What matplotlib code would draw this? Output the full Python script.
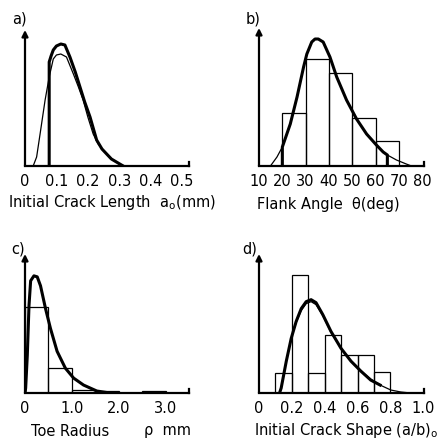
import matplotlib.pyplot as plt

W, H = 447, 446

# a) initial crack length
a_fit_x = [0.077, 0.077, 0.083, 0.090, 0.100, 0.114, 0.127, 0.143, 0.160, 0.175, 0.190, 0.207,
           0.228, 0.245, 0.260, 0.275, 0.291, 0.3125]
a_fit_y = [0, 104, 110, 116, 120, 122, 121, 109, 94, 79, 64, 49, 26, 17, 12, 7, 4, 0]
a_obs_x = [0.026, 0.037, 0.048, 0.064, 0.077, 0.090, 0.100, 0.114, 0.132, 0.154, 0.170, 0.185,
           0.200, 0.217, 0.233, 0.249, 0.265, 0.281, 0.300, 0.3125]
a_obs_y = [0, 9, 32, 66, 89, 107, 111, 112, 109, 92, 79, 66, 49, 32, 22, 16, 10, 6, 2, 0.5]
a_ticks = [0, 0.1, 0.2, 0.3, 0.4, 0.5]
a_ticklabels = ['0', '0.1', '0.2', '0.3', '0.4', '0.5']

# b) flank angle
b_edges = [20, 30, 40, 50, 60, 70]
b_counts = [53, 107, 93, 48, 25]
b_fit_x = [20.0, 20.0, 23.4, 26.3, 29.1, 30.5, 32.6, 34.0, 35.4, 37.5, 40.4, 43.3, 47.5, 51.8,
           56.1, 60.3, 63.2, 65.0, 65.0]
b_fit_y = [0, 19, 42, 69, 99, 112, 124, 127, 127, 124, 109, 89, 66, 47, 32, 21, 14, 11, 0]
b_obs_x = [14.9, 17.7, 20.0, 23.4, 26.3, 29.1, 30.5, 32.6, 34.0, 35.4, 37.5, 40.4, 43.3, 47.5,
           51.8, 56.1, 60.3, 63.2, 65.0, 68.9, 73.1, 75.3]
b_obs_y = [0, 9, 19, 42, 69, 99, 112, 124, 127, 127, 124, 109, 89, 66, 47, 32, 21, 14, 11, 6, 2, 0]
b_ticks = [10, 20, 30, 40, 50, 60, 70, 80]

# c) toe radius
c_edges = [0, 0.5, 1.0, 1.5, 2.0]
c_counts = [87, 25, 3, 2]
c_edges2 = [2.5, 3.0]
c_counts2 = [2]
c_fit_x = [0.0, 0.014, 0.049, 0.085, 0.12, 0.19, 0.26, 0.33, 0.437, 0.542, 0.683, 0.859,
           1.035, 1.246, 1.528, 1.81]
c_fit_y = [0, 5, 38, 88, 113, 118, 117, 108, 85, 65, 42, 25, 15, 8, 2, 0]
c_ticks = [0, 1.0, 2.0, 3.0]
c_ticklabels = ['0', '1.0', '2.0', '3.0']

# d) initial crack shape
d_edges = [0.1, 0.2, 0.3, 0.4, 0.5, 0.6, 0.7, 0.8]
d_counts = [20, 119, 20, 58, 38, 38, 21]
d_fit_x = [0.125, 0.135, 0.166, 0.196, 0.226, 0.257, 0.287, 0.317, 0.347, 0.388, 0.438, 0.499,
           0.56, 0.62, 0.68, 0.737]
d_fit_y = [0, 5, 32, 55, 72, 85, 92, 94, 91, 79, 62, 45, 32, 22, 13, 8]
d_obs_x = [0.125, 0.135, 0.166, 0.196, 0.226, 0.257, 0.287, 0.317, 0.347, 0.388, 0.438, 0.499,
           0.56, 0.62, 0.68, 0.737, 0.802, 0.863, 0.923]
d_obs_y = [0, 5, 32, 55, 71, 83, 90, 92, 89, 78, 61, 45, 32, 22, 14, 8, 3, 1, 0]
d_ticks = [0, 0.2, 0.4, 0.6, 0.8, 1.0]
d_ticklabels = ['0', '0.2', '0.4', '0.6', '0.8', '1.0']

fig = plt.figure(figsize=(W / 100, H / 100), dpi=100)
fig.patch.set_facecolor('white')


def make_ax(x0, x1, ybase, ytop, xlim, ylim):
    ax = fig.add_axes([x0 / W, 1 - ybase / H, (x1 - x0) / W, (ybase - ytop) / H])
    ax.set_xlim(*xlim)
    ax.set_ylim(*ylim)
    for s in ['top', 'right', 'left']:
        ax.spines[s].set_visible(False)
    ax.spines['bottom'].set_linewidth(1.6)
    ax.set_yticks([])
    ax.tick_params(axis='x', length=0, pad=6, labelsize=10.5)
    ax.annotate('', xy=(0, 1), xytext=(0, 0), xycoords='axes fraction',
                arrowprops=dict(arrowstyle='-|>', lw=1.6, color='black', mutation_scale=9,
                                shrinkA=0, shrinkB=0))
    ax.plot([1, 1], [0, 0.03], transform=ax.transAxes, color='black', lw=1.6, clip_on=False)
    return ax


def bars(ax, edges, counts):
    widths = [edges[i + 1] - edges[i] for i in range(len(counts))]
    ax.bar(edges[:-1], counts, width=widths, align='edge', fill=False,
           edgecolor='black', linewidth=0.9)


lab = dict(fontsize=10.5, ha='center', va='center')

# a)
ax = make_ax(25, 189, 166, 30, (0, 0.522), (0, 136))
ax.plot(a_obs_x, a_obs_y, color='black', lw=0.9)
ax.plot(a_fit_x, a_fit_y, color='black', lw=2.2)
ax.set_xticks(a_ticks, a_ticklabels)
fig.text(19 / W, 1 - 19 / H, 'a)', **lab)
fig.text(112 / W, 1 - 203 / H, 'Initial Crack Length  a$_\\mathregular{o}$(mm)', **lab)

# b)
ax = make_ax(259, 424, 166, 28, (10, 80.7), (0, 138))
bars(ax, b_edges, b_counts)
ax.plot(b_obs_x, b_obs_y, color='black', lw=0.9)
ax.plot(b_fit_x, b_fit_y, color='black', lw=2.2)
ax.set_xticks(b_ticks, [str(t) for t in b_ticks])
fig.text(253 / W, 1 - 19 / H, 'b)', **lab)
fig.text(328 / W, 1 - 204 / H, 'Flank Angle  \u03b8(deg)', **lab)

# c)
ax = make_ax(25, 189, 393, 254, (0, 3.49), (0, 140))
bars(ax, c_edges, c_counts)
bars(ax, c_edges2, c_counts2)
ax.plot(c_fit_x, c_fit_y, color='black', lw=2.2)
ax.set_xticks(c_ticks, c_ticklabels)
fig.text(18 / W, 1 - 249 / H, 'c)', **lab)
fig.text(70 / W, 1 - 431 / H, 'Toe Radius', **lab)
fig.text(168 / W, 1 - 431 / H, '\u03c1  mm', **lab)

# d)
ax = make_ax(259, 424, 393, 254, (0, 1.004), (0, 140))
bars(ax, d_edges, d_counts)
ax.plot(d_obs_x, d_obs_y, color='black', lw=0.9)
ax.plot(d_fit_x, d_fit_y, color='black', lw=2.2)
ax.set_xticks(d_ticks, d_ticklabels)
fig.text(250 / W, 1 - 249 / H, 'd)', **lab)
fig.text(346 / W, 1 - 431 / H, 'Initial Crack Shape (a/b)$_\\mathregular{o}$', **lab)

fig.savefig('out.png', dpi=100, facecolor='white')
